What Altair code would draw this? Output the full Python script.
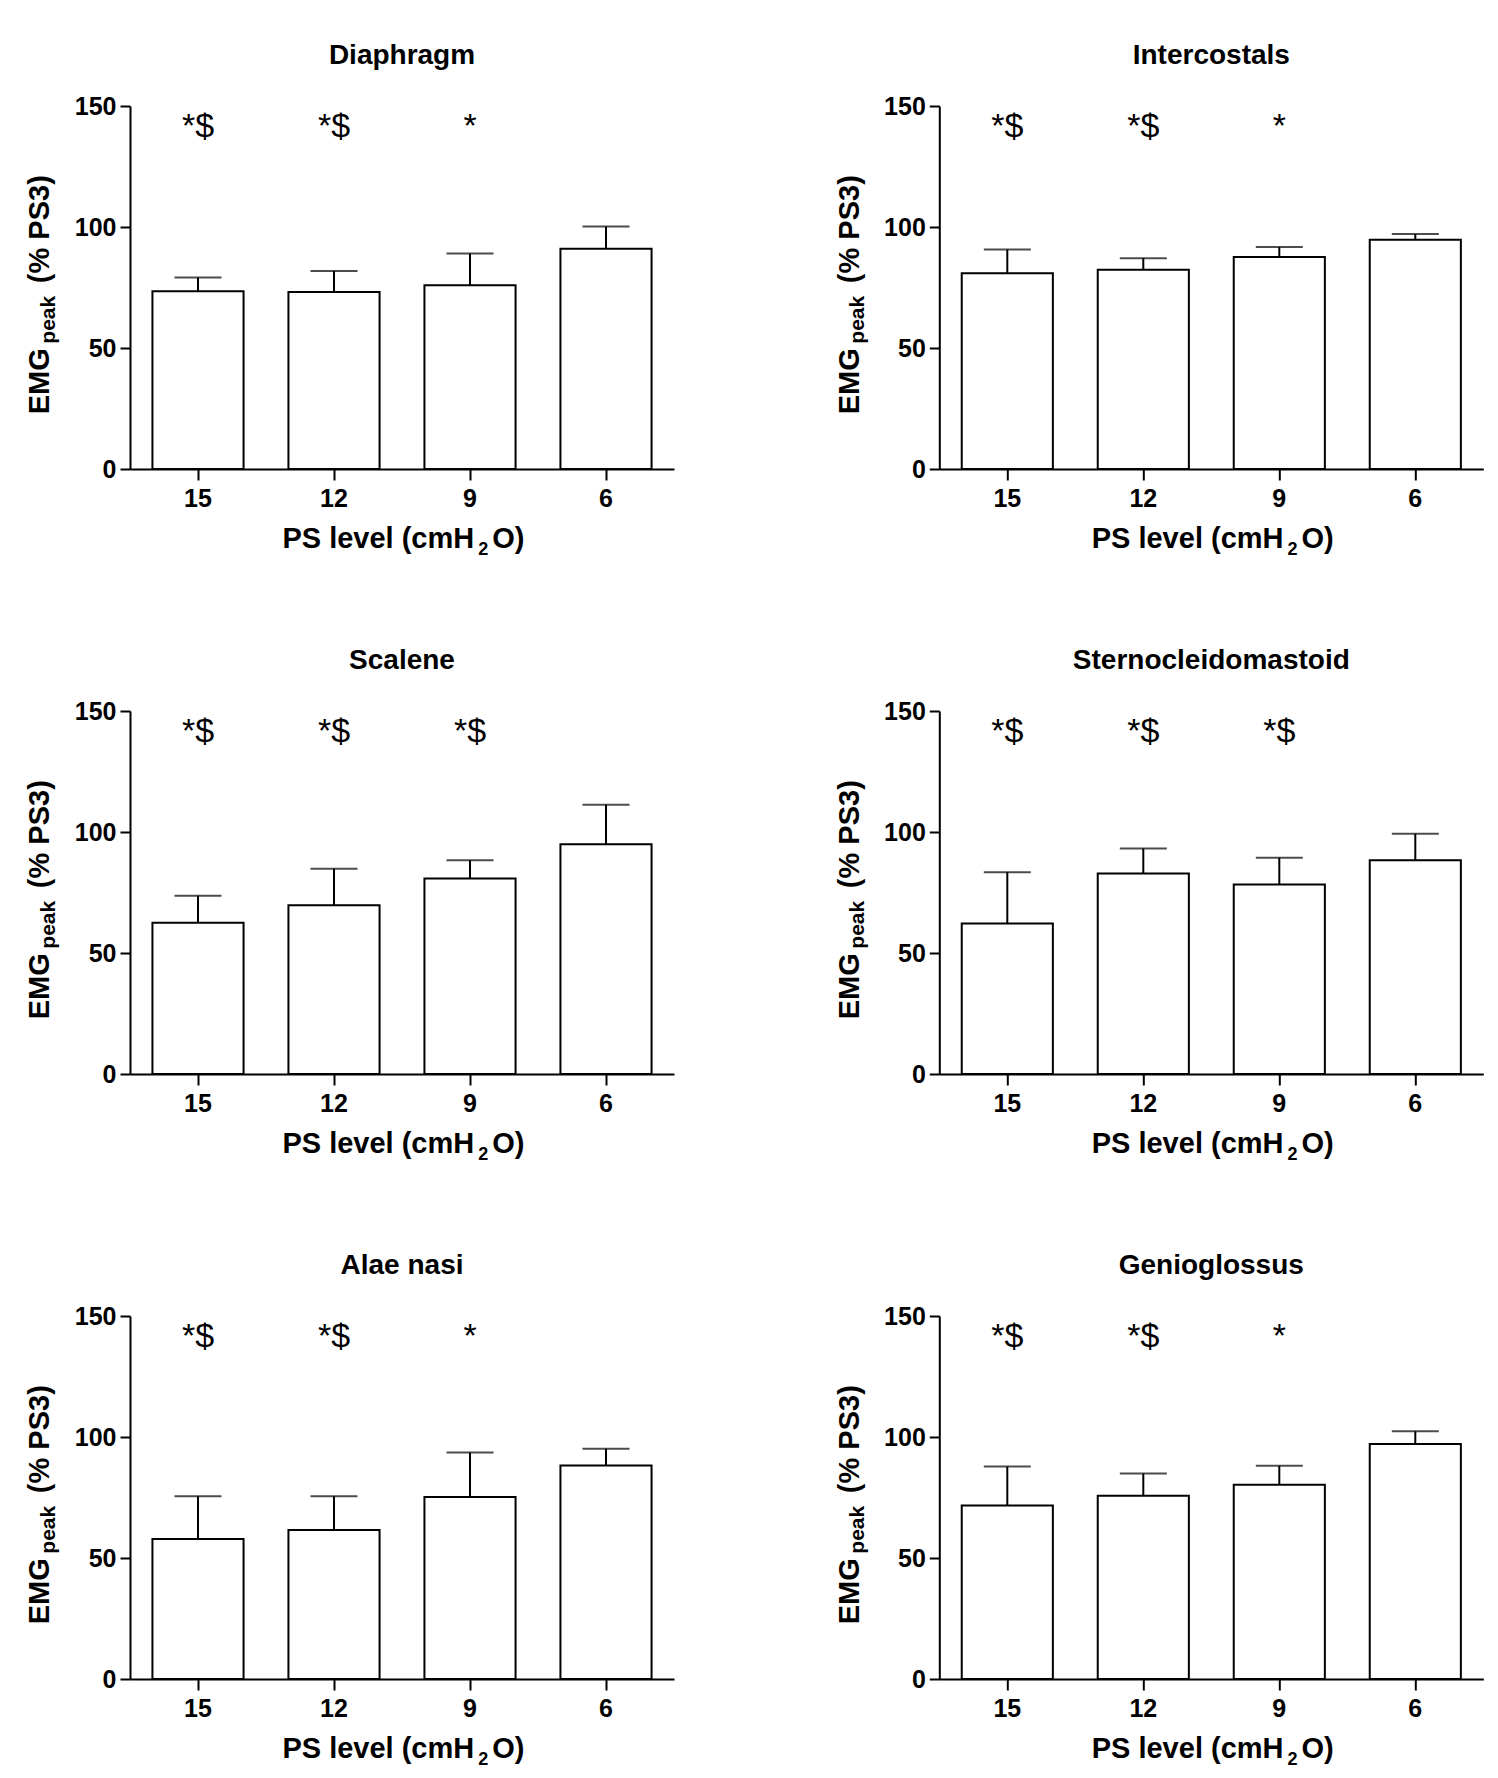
import altair as alt
import pandas as pd

FONT = "Liberation Sans"

levels = ["15", "12", "9", "6"]
muscles = ["Diaphragm", "Intercostals", "Scalene",
           "Sternocleidomastoid", "Alae nasi", "Genioglossus"]

diaphragm_mean = [73.5, 73.1, 75.9, 91.0]
diaphragm_upper = [79.1, 81.8, 89.1, 100.2]
diaphragm_sig = ["*$", "*$", "*", ""]

intercostals_mean = [80.9, 82.3, 87.6, 94.7]
intercostals_upper = [90.7, 87.1, 91.7, 97.1]
intercostals_sig = ["*$", "*$", "*", ""]

scalene_mean = [62.5, 69.7, 80.8, 94.9]
scalene_upper = [73.7, 84.8, 88.3, 111.3]
scalene_sig = ["*$", "*$", "*$", ""]

scm_mean = [62.2, 82.9, 78.3, 88.3]
scm_upper = [83.4, 93.2, 89.4, 99.3]
scm_sig = ["*$", "*$", "*$", ""]

alae_mean = [57.8, 61.6, 75.2, 88.2]
alae_upper = [75.5, 75.5, 93.6, 95.1]
alae_sig = ["*$", "*$", "*", ""]

genio_mean = [71.7, 75.7, 80.3, 97.1]
genio_upper = [87.8, 84.9, 88.1, 102.4]
genio_sig = ["*$", "*$", "*", ""]

y_ticks = [0, 50, 100, 150]
y_title_parts = ["EMG", "peak", "(% PS3)"]
x_title_parts = ["PS level (cmH", "2", "O)"]

W, H = 544, 363


def const_text(txt, **kw):
    return alt.Chart(pd.DataFrame({"t": [txt]})).mark_text(
        font=FONT, fontWeight="bold", color="black", **kw
    ).encode(text="t:N")


def panel(title, means, uppers, sigs):
    df = pd.DataFrame({"level": levels, "mean": means,
                       "upper": uppers, "sig": sigs})
    x = alt.X("level:N", sort=levels,
              scale=alt.Scale(paddingInner=0.33, paddingOuter=0.165),
              axis=alt.Axis(title=None, labelAngle=0, labelFont=FONT,
                            labelFontSize=25, labelFontWeight="bold",
                            labelColor="black", labelPadding=6,
                            tickSize=11, tickWidth=2, tickColor="black",
                            domainColor="black", domainWidth=2))
    ysc = alt.Scale(domain=[0, 150], nice=False)
    yax = alt.Axis(title=None, values=y_ticks, labelFont=FONT,
                   labelFontSize=25, labelFontWeight="bold",
                   labelColor="black", labelPadding=4, tickSize=10,
                   tickWidth=2, tickColor="black", domainColor="black",
                   domainWidth=2, grid=False)
    base = alt.Chart(df)
    bars = base.mark_bar(fill="white", stroke="black", strokeWidth=2).encode(
        x=x, y=alt.Y("mean:Q", scale=ysc, axis=yax))
    rule = base.mark_rule(color="black", strokeWidth=2).encode(
        x=x, y=alt.Y("mean:Q", scale=ysc, axis=yax), y2="upper:Q")
    cap = base.mark_tick(color="black", thickness=2, size=47).encode(
        x=x, y=alt.Y("upper:Q", scale=ysc, axis=yax))
    ann = base.transform_filter("datum.sig != ''").mark_text(
        font=FONT, fontSize=34, baseline="alphabetic", align="center",
        color="black").encode(x=x, y=alt.datum(137), text="sig:N")

    ttl = const_text(title, fontSize=28, align="center",
                     baseline="alphabetic").encode(
        x=alt.value(W / 2), y=alt.value(-41.6))

    yt1 = const_text(y_title_parts[0], fontSize=29, angle=270, align="center",
                     baseline="alphabetic").encode(
        x=alt.value(-80.7), y=alt.value(275.3))
    yt2 = const_text(y_title_parts[1], fontSize=21, angle=270, align="center",
                     baseline="alphabetic").encode(
        x=alt.value(-75.5), y=alt.value(213.7))
    yt3 = const_text(y_title_parts[2], fontSize=29, angle=270, align="center",
                     baseline="alphabetic").encode(
        x=alt.value(-80.7), y=alt.value(123.2))

    xt1 = const_text(x_title_parts[0], fontSize=29, align="center",
                     baseline="alphabetic").encode(
        x=alt.value(248.3), y=alt.value(442.4))
    xt2 = const_text(x_title_parts[1], fontSize=18, align="center",
                     baseline="alphabetic").encode(
        x=alt.value(353.3), y=alt.value(449))
    xt3 = const_text(x_title_parts[2], fontSize=29, align="center",
                     baseline="alphabetic").encode(
        x=alt.value(378.3), y=alt.value(442.4))

    return alt.layer(bars, rule, cap, ann, ttl, yt1, yt2, yt3,
                     xt1, xt2, xt3).properties(width=W, height=H)


p = [
    panel(muscles[0], diaphragm_mean, diaphragm_upper, diaphragm_sig),
    panel(muscles[1], intercostals_mean, intercostals_upper, intercostals_sig),
    panel(muscles[2], scalene_mean, scalene_upper, scalene_sig),
    panel(muscles[3], scm_mean, scm_upper, scm_sig),
    panel(muscles[4], alae_mean, alae_upper, alae_sig),
    panel(muscles[5], genio_mean, genio_upper, genio_sig),
]

chart = alt.concat(*p, columns=2, spacing={"row": 242, "column": 265.3},
                   bounds="flush").properties(
    padding={"left": 18, "top": 34, "right": 5, "bottom": 5},
    background="white",
).configure_view(stroke=None)

chart.save("out.html", embed_options={"renderer": "svg", "actions": False})
